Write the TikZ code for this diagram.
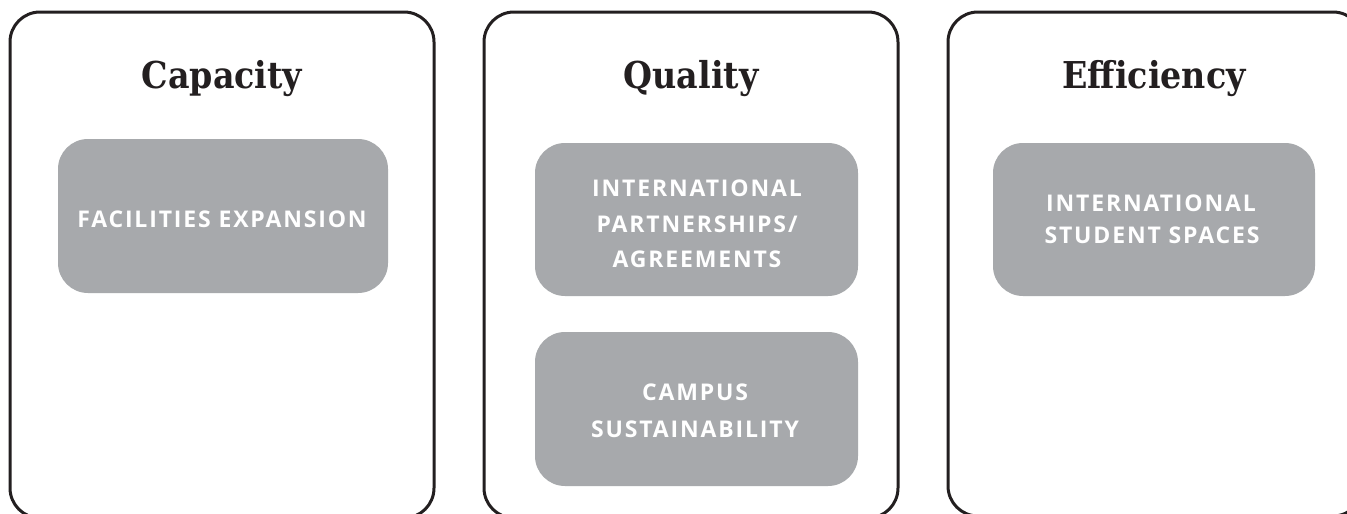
\documentclass[tikz,border=0pt]{standalone}
\usepackage{fontspec}
\newfontfamily\titlefont{DejaVu Serif Condensed}
\newfontfamily\boxfont[LetterSpace=8]{Open Sans}
\definecolor{boxgray}{HTML}{A7A9AC}
\definecolor{edge}{HTML}{231F20}
\begin{document}
\begin{tikzpicture}[x=1pt,y=-1pt,
  panel/.style={draw=edge, line width=3pt, rounded corners=30pt, fill=white},
  gbox/.style={fill=boxgray, rounded corners=30pt},
  ttl/.style={anchor=base, inner sep=0pt, text=edge, font=\titlefont\bfseries\fontsize{37}{44}\selectfont},
  btxt/.style={anchor=base, inner sep=0pt, text=white, font=\boxfont\bfseries\fontsize{23}{27}\selectfont}]
\useasboundingbox (0,0) rectangle (1347,514);
% panels
\draw[panel] (10,12) rectangle (434,518);
\draw[panel] (484,12) rectangle (898,518);
\draw[panel] (948,12) rectangle (1363,516);
% titles
\node[ttl] (tc) at (222,88) {Capacity};
\node[ttl] (tq) at (691,88) {Quality};
\node[ttl] (te) at (1154,88) {Efficiency};
% boxes
\path[gbox] (58,139) rectangle (388,293);
\path[gbox] (535,143) rectangle (858,296);
\path[gbox] (535,332) rectangle (858,486);
\path[gbox] (993,143) rectangle (1315,296);
% box texts
\node[btxt] (l1) at (222,227) {FACILITIES EXPANSION};
\node[btxt] (l2) at (697,196) {INTERNATIONAL};
\node[btxt] (l3) at (697,232) {PARTNERSHIPS/};
\node[btxt] (l4) at (697,267) {AGREEMENTS};
\node[btxt] (l5) at (695,400) {CAMPUS};
\node[btxt] (l6) at (695,437) {SUSTAINABILITY};
\node[btxt] (l7) at (1151,211) {INTERNATIONAL};
\node[btxt] (l8) at (1152,243) {STUDENT SPACES};
\end{tikzpicture}
\end{document}
